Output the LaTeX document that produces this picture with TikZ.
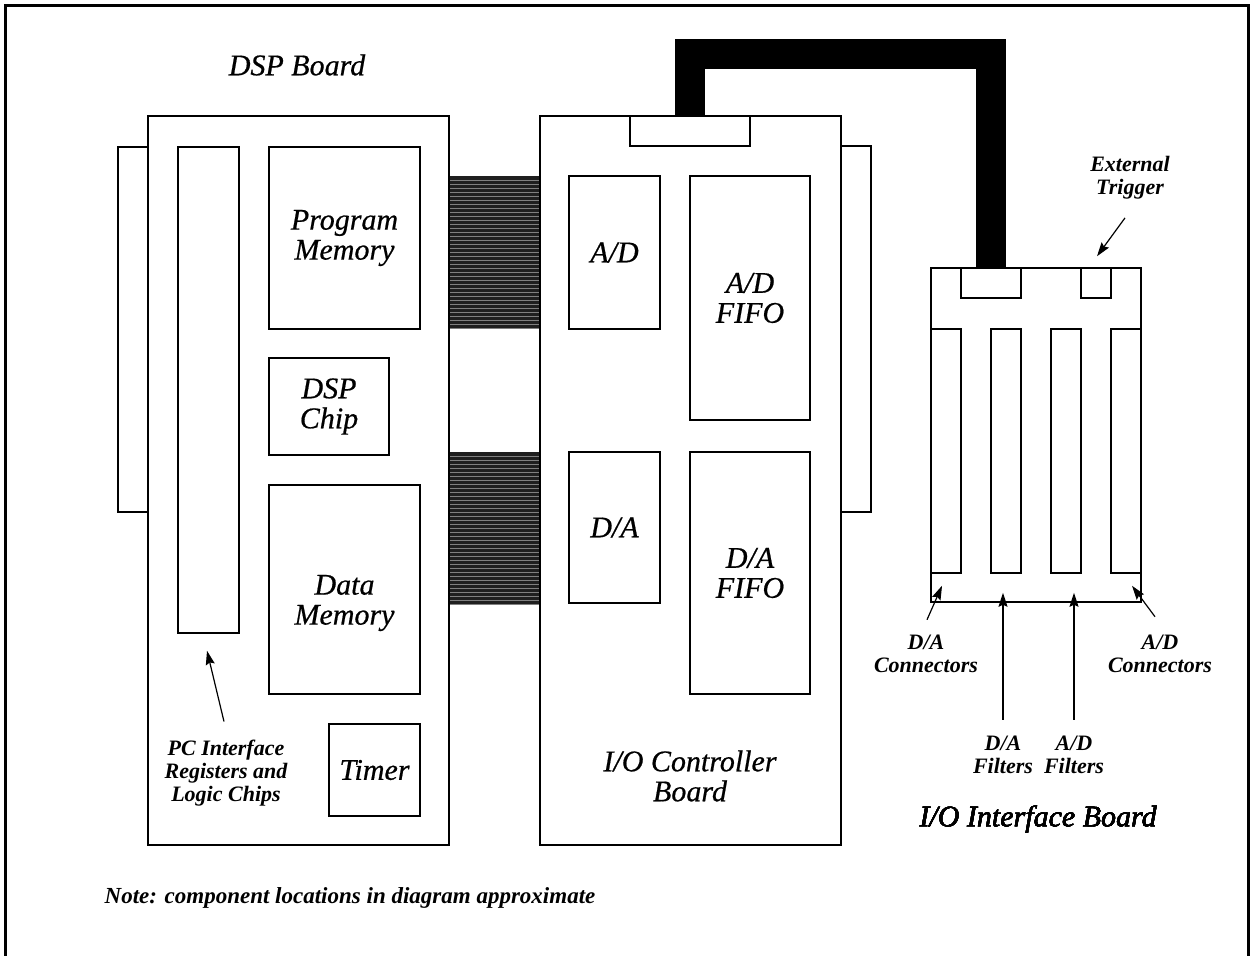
\documentclass[tikz,border=0pt]{standalone}
\usepackage{fontspec}
\setmainfont{Liberation Serif}
\newfontfamily\heavyserif{Liberation Serif}[FakeBold=0.6]
\usetikzlibrary{positioning,arrows.meta,calc}
\newcommand{\bigtxt}{\fontsize{15}{15}\selectfont\heavyserif\itshape}
\newcommand{\smtxt}{\fontsize{11}{11.5}\selectfont\bfseries\itshape}
\tikzset{
  pin/.style={-{Stealth[length=7pt,width=4.5pt,inset=1pt]}, line width=0.6pt},
  blk/.style={draw, line width=0.75pt, fill=white, inner sep=0pt, align=center, font=\bigtxt},
  lbl/.style={inner sep=0pt, align=center, font=\bigtxt},
  tag/.style={inner sep=0pt, align=center, font=\smtxt},
  ribbon/.style={fill=black!88, inner sep=0pt, path picture={
    \foreach \k in {1,...,38}
      \draw[black!50, line width=0.3pt]
        ([yshift=-\k*2pt]path picture bounding box.north west) --
        ([yshift=-\k*2pt]path picture bounding box.north east);}},
  cable/.style={line width=15pt, line join=miter},
}
% box from its corners: [style]{name}{x1}{y1}{x2}{y2}{text}
\newcommand{\comp}[7][blk]{%
  \node[#1, minimum width={(#5-#3)*0.5pt}, minimum height={(#6-#4)*0.5pt}]
    (#2) at ({(#3+#5)/2},{(#4+#6)/2}) {#7};}

\begin{document}
\begin{tikzpicture}[x=0.5pt,y=-0.5pt]
  \useasboundingbox (0,0) rectangle (1253,955);
  % outer frame, open at the bottom
  \draw[line width=1.5pt] (5,975) -- (5,5) -- (1248,5) -- (1248,975);
  % card edges behind the boards
  \comp{lplate}{118}{147}{148}{512}{}
  \comp{rplate}{841}{146}{871}{512}{}
  % ribbon cables
  \comp[ribbon]{rib1}{449}{176}{540}{329}{}
  \comp[ribbon]{rib2}{449}{452}{540}{604}{}
  % DSP board
  \comp{dsp}{148}{116}{449}{845}{}
  \comp{pcb}{178}{147}{239}{633}{}
  \comp{prog}{269}{147}{420}{329}{Program\\Memory}
  \comp{chip}{269}{358}{389}{455}{DSP\\Chip}
  \comp{dmem}{269}{485}{420}{694}{}
  \comp{timer}{329}{724}{420}{816}{Timer}
  \node[lbl] (dmemlbl) at (344.5,603) {Data\\Memory};
  \node[lbl] (dsplbl) at (297,65) {DSP Board};
  % I/O controller board
  \comp{ioc}{540}{116}{841}{845}{}
  \comp{ctop}{630}{116}{750}{146}{}
  \comp{ad}{569}{176}{660}{329}{A/D}
  \comp{adf}{690}{176}{810}{420}{A/D\\FIFO}
  \comp{da}{569}{452}{660}{603}{D/A}
  \comp{daf}{690}{452}{810}{694}{D/A\\FIFO}
  \node[lbl] (ioclbl) at (690,776) {I/O Controller\\Board};
  % I/O interface board
  \comp{iob}{931}{268}{1141}{602}{}
  \comp{icon}{961}{268}{1021}{298}{}
  \comp{trig}{1081}{268}{1111}{298}{}
  \foreach \x [count=\i] in {931,991,1051,1111}
    \comp{slot\i}{\x}{329}{\x+30}{573}{}
  \node[lbl] (ioblbl) at (1038,819) {I/O Interface Board};
  % cable between the two I/O boards
  \draw[cable] (ctop.north) -- ++(0,-61) -| (icon.north);
  % callouts
  \node[tag] (pcl) at (226,773) {PC Interface\\Registers and\\Logic Chips};
  \node[tag] (etl) at (1130,178) {External\\Trigger};
  \node[tag] (dacl) at (926,654) {D/A\\Connectors};
  \node[tag] (adcl) at (1160,654) {A/D\\Connectors};
  \node[tag] (dafl) at (1003,755) {D/A\\Filters};
  \node[tag] (adfl) at (1074,755) {A/D\\Filters};
  \draw[pin] ([shift={(-2,-18)}]pcl.north) -- ([shift={(-1.5,17)}]pcb.south);
  \draw[pin] ([shift={(-5,18)}]etl.south) -- ([shift={(1,-11)}]trig.north);
  \draw[pin] ([shift={(1,-15)}]dacl.north) -- ([shift={(-4,12)}]slot1.south);
  \draw[pin] ([shift={(-5,-18)}]adcl.north) -- ([shift={(6,12)}]slot4.south);
  \draw[pin] ([shift={(0,-16)}]dafl.north) -- ([shift={(-3,19)}]slot2.south);
  \draw[pin] ([shift={(0,-16)}]adfl.north) -- ([shift={(8,19)}]slot3.south);
  \node[tag, font=\fontsize{11.5}{12}\selectfont\bfseries\itshape] (note) at (350,898)
    {Note: component locations in diagram approximate};
\end{tikzpicture}
\end{document}
